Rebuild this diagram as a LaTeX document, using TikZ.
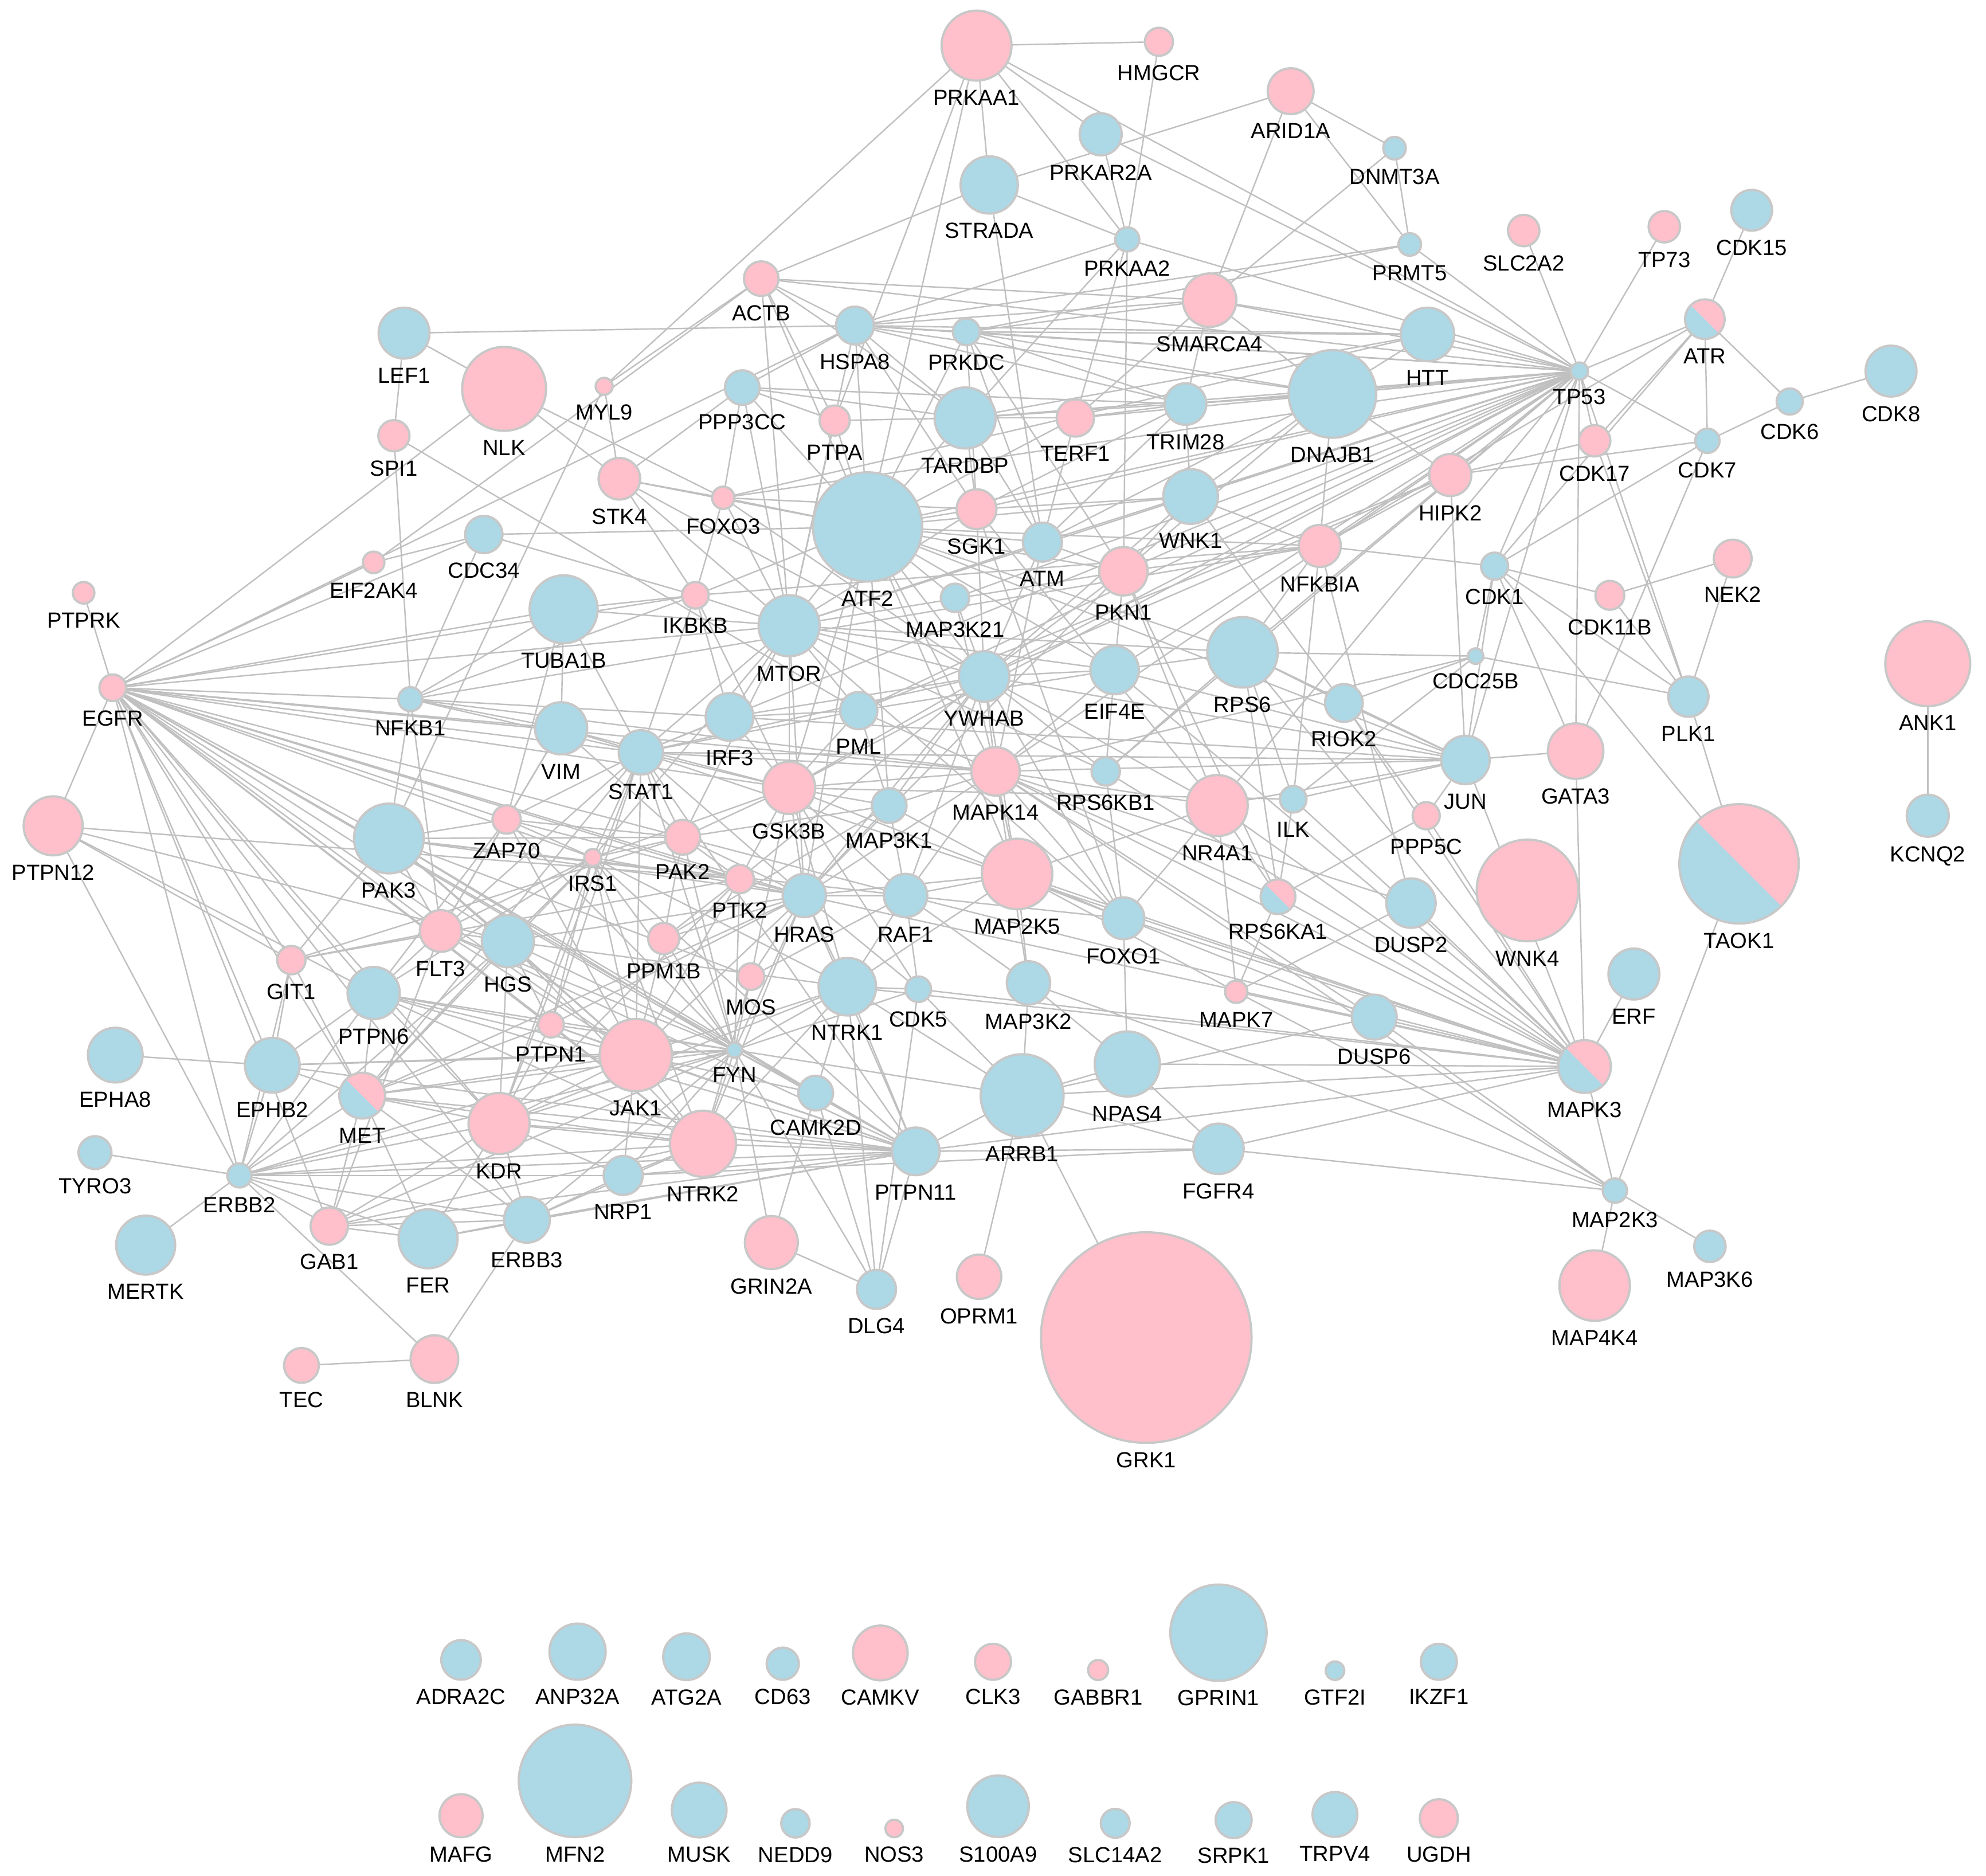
\documentclass[tikz,border=0pt]{standalone}
\usepackage{fontspec}
\setmainfont{Liberation Sans}
\usetikzlibrary{calc}
\pgfdeclarelayer{back}
\pgfdeclarelayer{bg}
\pgfsetlayers{back,bg,main}
\definecolor{pk}{RGB}{255,192,203}
\definecolor{lb}{RGB}{173,216,230}
\definecolor{bd}{RGB}{200,200,200}
\definecolor{ed}{RGB}{192,192,192}
\tikzset{
 nd/.style={circle,draw=bd,line width=1.8pt,inner sep=0pt,outer sep=0pt},
 pkn/.style={nd,fill=pk},
 bln/.style={nd,fill=lb},
 spn/.style={nd,fill=lb,path picture={\fill[pk] ($(path picture bounding box.center)+(-90pt,90pt)$) -- ($(path picture bounding box.center)+(90pt,-90pt)$) -- ($(path picture bounding box.center)+(90pt,90pt)$) -- cycle;}},
 lbl/.style={font=\fontsize{17.3}{20}\selectfont,inner sep=0pt,outer sep=0pt,text=black},
 ge/.style={draw=ed,line width=1.1pt}
}
\newcommand\mknode[5]{\node[#5,minimum size={2*#4-1.8}] (#1) at (#2,#3) {};
 \node[lbl,anchor=north] (#1-l) at ([yshift=-7.5pt]#1.south) {#1};}
\begin{document}
\begin{tikzpicture}[x=1pt,y=-1pt]
\useasboundingbox (0,0) rectangle (1568,1481);
\begin{pgfonlayer}{back}
\fill[white] (0,0) rectangle (1568,1481);
\end{pgfonlayer}
\mknode{PRKAA1}{771}{36}{28.5}{pkn}
\mknode{HMGCR}{915}{33}{12}{pkn}
\mknode{ARID1A}{1019}{72}{19}{pkn}
\mknode{PRKAR2A}{869}{106}{17.5}{bln}
\mknode{DNMT3A}{1101}{117}{9.8}{bln}
\mknode{STRADA}{781}{146}{23.5}{bln}
\mknode{PRKAA2}{890}{189}{10.4}{bln}
\mknode{PRMT5}{1113}{193}{9.8}{bln}
\mknode{SLC2A2}{1203}{182}{13.3}{pkn}
\mknode{TP73}{1314}{179}{13.3}{pkn}
\mknode{CDK15}{1383}{166}{17}{bln}
\mknode{ACTB}{601}{220}{14.5}{pkn}
\mknode{SMARCA4}{955}{237}{22}{pkn}
\mknode{ATR}{1346}{252}{16.5}{spn}
\mknode{HSPA8}{675}{257}{15.8}{bln}
\mknode{PRKDC}{763}{262}{11.5}{bln}
\mknode{LEF1}{319}{263}{21}{bln}
\mknode{HTT}{1127}{264}{22}{bln}
\mknode{TP53}{1247}{293}{7.7}{bln}
\mknode{DNAJB1}{1052}{311}{35.5}{bln}
\mknode{CDK8}{1493}{293}{21}{bln}
\mknode{CDK6}{1413}{317}{11.2}{bln}
\mknode{NLK}{398}{307}{34}{pkn}
\mknode{MYL9}{477}{305}{7.6}{pkn}
\mknode{PPP3CC}{586}{306}{14.5}{bln}
\mknode{PTPA}{659}{332}{12.8}{pkn}
\mknode{TARDBP}{762}{330}{25}{bln}
\mknode{TERF1}{849}{330}{15.6}{pkn}
\mknode{TRIM28}{936}{319}{17.3}{bln}
\mknode{CDK17}{1259}{348}{13.3}{pkn}
\mknode{CDK7}{1348}{348}{10.5}{bln}
\mknode{SPI1}{311}{344}{13.2}{pkn}
\mknode{STK4}{489}{378}{17.3}{pkn}
\mknode{FOXO3}{571}{393}{9.7}{pkn}
\mknode{ATF2}{685}{416}{44}{bln}
\mknode{SGK1}{771}{402}{16.6}{pkn}
\mknode{WNK1}{940}{392}{22.5}{bln}
\mknode{HIPK2}{1145}{375}{17.5}{pkn}
\mknode{NFKBIA}{1042}{431}{17.5}{pkn}
\mknode{ATM}{823}{428}{16.3}{bln}
\mknode{PKN1}{887}{451}{20}{pkn}
\mknode{CDC34}{382}{422}{15.6}{bln}
\mknode{EIF2AK4}{295}{444}{9.4}{pkn}
\mknode{PTPRK}{66}{468}{9.4}{pkn}
\mknode{IKBKB}{549}{470}{11.4}{pkn}
\mknode{MAP3K21}{754}{472}{12.1}{bln}
\mknode{MTOR}{623}{494}{25}{bln}
\mknode{TUBA1B}{445}{481}{27.7}{bln}
\mknode{CDK1}{1180}{447}{11.6}{bln}
\mknode{NEK2}{1368}{441}{15.8}{pkn}
\mknode{CDK11B}{1271}{470}{12.3}{pkn}
\mknode{EGFR}{89}{543}{11.4}{pkn}
\mknode{NFKB1}{324}{552}{10.4}{bln}
\mknode{RPS6}{981}{515}{28.7}{bln}
\mknode{CDC25B}{1165}{518}{7}{bln}
\mknode{ANK1}{1522}{524}{34.4}{pkn}
\mknode{PLK1}{1333}{550}{16.8}{bln}
\mknode{EIF4E}{880}{529}{20}{bln}
\mknode{YWHAB}{777}{534}{20.8}{bln}
\mknode{RIOK2}{1061}{555}{15.8}{bln}
\mknode{VIM}{443}{575}{21.5}{bln}
\mknode{IRF3}{576}{566}{19.7}{bln}
\mknode{PML}{678}{561}{15.6}{bln}
\mknode{STAT1}{506}{594}{18.4}{bln}
\mknode{JUN}{1157}{600}{20}{bln}
\mknode{GATA3}{1244}{593}{22.8}{pkn}
\mknode{GSK3B}{623}{622}{21.5}{pkn}
\mknode{MAPK14}{786}{609}{20}{pkn}
\mknode{RPS6KB1}{873}{609}{12.1}{bln}
\mknode{NR4A1}{961}{636}{25}{pkn}
\mknode{ILK}{1021}{631}{11.4}{bln}
\mknode{PPP5C}{1126}{644}{11.6}{pkn}
\mknode{PTPN12}{42}{652}{24.2}{pkn}
\mknode{PAK3}{307}{662}{28.4}{bln}
\mknode{ZAP70}{400}{647}{12.1}{pkn}
\mknode{IRS1}{468}{677}{7.6}{pkn}
\mknode{PAK2}{539}{661}{14.6}{pkn}
\mknode{MAP3K1}{702}{636}{14.6}{bln}
\mknode{KCNQ2}{1522}{644}{17.5}{bln}
\mknode{TAOK1}{1373}{682}{48}{spn}
\mknode{PTK2}{584}{694}{12.1}{pkn}
\mknode{HRAS}{635}{707}{18}{bln}
\mknode{RAF1}{715}{707}{18}{bln}
\mknode{MAP2K5}{803}{690}{28.7}{pkn}
\mknode{FOXO1}{887}{725}{17.4}{bln}
\mknode{RPS6KA1}{1009}{708}{14.6}{spn}
\mknode{DUSP2}{1114}{713}{20.4}{bln}
\mknode{WNK4}{1206}{703}{41}{pkn}
\mknode{GIT1}{230}{758}{12.1}{pkn}
\mknode{FLT3}{348}{735}{17.4}{pkn}
\mknode{HGS}{401}{743}{21.5}{bln}
\mknode{PPM1B}{524}{741}{13.2}{pkn}
\mknode{MOS}{593}{771}{11.4}{pkn}
\mknode{PTPN6}{295}{784}{21.5}{bln}
\mknode{PTPN1}{435}{809}{11}{pkn}
\mknode{NTRK1}{669}{779}{23.6}{bln}
\mknode{CDK5}{725}{781}{11}{bln}
\mknode{MAP3K2}{812}{776}{18}{bln}
\mknode{MAPK7}{976}{783}{9.7}{pkn}
\mknode{ERF}{1290}{769}{21}{bln}
\mknode{DUSP6}{1085}{803}{18.6}{bln}
\mknode{EPHA8}{91}{833}{22.5}{bln}
\mknode{EPHB2}{215}{841}{22.5}{bln}
\mknode{MET}{286}{865}{19}{spn}
\mknode{JAK1}{502}{833}{29.4}{pkn}
\mknode{FYN}{580}{829}{6.9}{bln}
\mknode{NPAS4}{890}{840}{26.6}{bln}
\mknode{MAPK3}{1251}{842}{21.7}{spn}
\mknode{KDR}{394}{887}{25}{pkn}
\mknode{CAMK2D}{644}{863}{14.6}{bln}
\mknode{ARRB1}{807}{865}{33.6}{bln}
\mknode{TYRO3}{75}{910}{13.9}{bln}
\mknode{ERBB2}{189}{928}{10.4}{bln}
\mknode{NRP1}{492}{928}{16.3}{bln}
\mknode{NTRK2}{555}{903}{27}{pkn}
\mknode{PTPN11}{723}{909}{19.7}{bln}
\mknode{FGFR4}{962}{907}{20.8}{bln}
\mknode{MAP2K3}{1275}{940}{10.5}{bln}
\mknode{GAB1}{260}{968}{15.6}{pkn}
\mknode{FER}{338}{978}{24.2}{bln}
\mknode{ERBB3}{416}{963}{19}{bln}
\mknode{MERTK}{115}{983}{24.2}{bln}
\mknode{GRIN2A}{609}{981}{21.8}{pkn}
\mknode{DLG4}{692}{1018}{16.3}{bln}
\mknode{OPRM1}{773}{1008}{18.4}{pkn}
\mknode{MAP3K6}{1350}{984}{13.3}{bln}
\mknode{MAP4K4}{1259}{1015}{28.7}{pkn}
\mknode{GRK1}{905}{1056}{84}{pkn}
\mknode{TEC}{238}{1078}{14.6}{pkn}
\mknode{BLNK}{343}{1073}{19.7}{pkn}
% isolated nodes
\mknode{ADRA2C}{364}{1310.5}{16.5}{bln}
\mknode{ANP32A}{456}{1304}{23.1}{bln}
\mknode{ATG2A}{542}{1308}{19.3}{bln}
\mknode{CD63}{618}{1313.5}{13.6}{bln}
\mknode{CAMKV}{695}{1305}{22.5}{pkn}
\mknode{CLK3}{784}{1312}{15.1}{pkn}
\mknode{GABBR1}{867}{1318.5}{8.8}{pkn}
\mknode{GPRIN1}{962}{1289}{38.9}{bln}
\mknode{GTF2I}{1054}{1319}{8.2}{bln}
\mknode{IKZF1}{1136}{1312}{15.1}{bln}
\mknode{MAFG}{364}{1433.5}{17.9}{pkn}
\mknode{MFN2}{454}{1406}{45.3}{bln}
\mknode{MUSK}{552}{1429}{22.5}{bln}
\mknode{NEDD9}{628}{1439.5}{12.1}{bln}
\mknode{NOS3}{706}{1443.6}{7.8}{pkn}
\mknode{S100A9}{788}{1426}{25.2}{bln}
\mknode{SLC14A2}{880.5}{1439.5}{12.3}{bln}
\mknode{SRPK1}{974}{1437}{15.1}{bln}
\mknode{TRPV4}{1054}{1432.5}{18.6}{bln}
\mknode{UGDH}{1136}{1435.5}{15.9}{pkn}
\begin{pgfonlayer}{bg}
\foreach \a/\b in {
PRKAA1/HMGCR, PRKAA1/PRKAR2A, PRKAA1/STRADA, PRKAA1/PRKAA2, PRKAA1/TP53, PRKAA1/MYL9, PRKAA1/PTPA, PRKAA1/ATF2,
HMGCR/PRKAA2,
ARID1A/DNMT3A, ARID1A/PRMT5, ARID1A/SMARCA4, ARID1A/STRADA,
DNMT3A/PRMT5, DNMT3A/SMARCA4,
PRKAR2A/PRKAA2, PRKAR2A/TP53,
STRADA/PRKAA2, STRADA/ACTB, STRADA/ATM,
PRKAA2/HSPA8, PRKAA2/TARDBP, PRKAA2/PKN1, PRKAA2/TP53, PRKAA2/TERF1,
PRMT5/TP53, PRMT5/HSPA8, PRMT5/PRKDC,
SLC2A2/TP53, TP73/TP53, CDK15/ATR,
ATR/TP53, ATR/CDK6, ATR/CDK7, ATR/CDK17, ATR/CDK1, ATR/NFKBIA,
CDK6/CDK8, CDK6/CDK7,
HIPK2/CDK7, CDK7/GATA3, CDK7/CDK1, CDK7/TP53,
CDK17/TP53, CDK17/PLK1, CDK17/HIPK2,
TP53/HTT, TP53/DNAJB1, TP53/SMARCA4, TP53/HSPA8, TP53/PRKDC, TP53/TRIM28, TP53/ACTB, TP53/TARDBP, TP53/ATM, TP53/WNK1, TP53/NFKBIA, TP53/HIPK2, TP53/MTOR, TP53/ATF2, TP53/SGK1, TP53/YWHAB, TP53/MAPK14, TP53/EIF4E, TP53/RPS6, TP53/JUN, TP53/CDK1, TP53/PLK1, TP53/GATA3, TP53/PKN1, TP53/STAT1, TP53/GSK3B, TP53/NR4A1, TP53/FOXO3, TP53/TERF1, TP53/PML, TP53/MAP3K21, TP53/RPS6KB1,
HTT/HSPA8, HTT/PRKDC, HTT/DNAJB1, HTT/TARDBP, HTT/SMARCA4, HTT/FOXO3,
DNAJB1/HSPA8, DNAJB1/TRIM28, DNAJB1/WNK1, DNAJB1/ATM, DNAJB1/PKN1, DNAJB1/NFKBIA, DNAJB1/SMARCA4, DNAJB1/TARDBP, DNAJB1/HIPK2, DNAJB1/PRKDC,
SMARCA4/ACTB, SMARCA4/HSPA8, SMARCA4/TRIM28, SMARCA4/TERF1, SMARCA4/PRKDC,
ACTB/HSPA8, ACTB/MTOR, ACTB/TARDBP, ACTB/ATF2, ACTB/EIF2AK4, ACTB/MYL9, ACTB/PTPA,
LEF1/HSPA8, LEF1/NLK, LEF1/SPI1,
SPI1/NFKB1, SPI1/PML,
NLK/STK4, NLK/FOXO3, NLK/EGFR,
MYL9/STK4, MYL9/PAK3,
HSPA8/PRKDC, HSPA8/TRIM28, HSPA8/PPP3CC, HSPA8/ATF2, HSPA8/EGFR, HSPA8/TARDBP, HSPA8/MTOR, HSPA8/SGK1,
PRKDC/ATM, PRKDC/ATF2, PRKDC/TRIM28, PRKDC/SGK1, PRKDC/PKN1,
PPP3CC/TRIM28, PPP3CC/PTPA, PPP3CC/FOXO3, PPP3CC/ATF2, PPP3CC/MTOR, PPP3CC/STK4, PPP3CC/TARDBP,
PTPA/ATF2, PTPA/MTOR, PTPA/TARDBP,
TARDBP/TERF1, TARDBP/SGK1, TARDBP/ATF2, TARDBP/ATM,
TERF1/TRIM28, TERF1/ATM, TERF1/ATF2,
TRIM28/ATM, TRIM28/WNK1, TRIM28/SGK1,
STK4/FOXO3, STK4/MTOR, STK4/IKBKB, STK4/ATF2, STK4/YWHAB,
FOXO3/SGK1, FOXO3/YWHAB, FOXO3/IKBKB, FOXO3/ATF2, FOXO3/MTOR,
ATF2/JUN, ATF2/MAPK14, ATF2/ATM, ATF2/YWHAB, ATF2/MTOR, ATF2/SGK1, ATF2/WNK1, ATF2/NFKBIA, ATF2/PKN1, ATF2/RPS6, ATF2/EIF4E, ATF2/IKBKB, ATF2/CDC34, ATF2/MAP3K1, ATF2/GSK3B, ATF2/HRAS, ATF2/MAP2K5,
SGK1/WNK1, SGK1/YWHAB, SGK1/MTOR, SGK1/FOXO1, SGK1/NR4A1,
WNK1/PKN1, WNK1/PPP5C, WNK1/NFKBIA, WNK1/YWHAB,
HIPK2/NFKBIA, HIPK2/JUN, HIPK2/PML, HIPK2/YWHAB,
NFKBIA/CDK1, NFKBIA/IKBKB, NFKBIA/NFKB1, NFKBIA/PKN1, NFKBIA/ILK, NFKBIA/DUSP2, NFKBIA/RPS6,
ATM/YWHAB, ATM/MTOR, ATM/PKN1, ATM/MAPK14,
PKN1/YWHAB, PKN1/EIF4E, PKN1/NR4A1, PKN1/RPS6KA1, PKN1/HRAS,
CDC34/EIF2AK4, CDC34/NFKB1, CDC34/IKBKB,
PTPRK/EGFR, PTPN12/EGFR,
EGFR/TUBA1B, EGFR/IKBKB, EGFR/MTOR, EGFR/NFKB1, EGFR/VIM, EGFR/STAT1, EGFR/ZAP70, EGFR/PAK3, EGFR/IRS1, EGFR/PAK2, EGFR/PTK2, EGFR/HRAS, EGFR/HGS, EGFR/FLT3, EGFR/PTPN6, EGFR/PTPN1, EGFR/JAK1, EGFR/FYN, EGFR/GIT1, EGFR/EPHB2, EGFR/ERBB2, EGFR/MET, EGFR/KDR, EGFR/PTPN11, EGFR/NTRK2, EGFR/ERBB3, EGFR/GAB1, EGFR/GSK3B, EGFR/MAPK14, EGFR/CDC34, EGFR/EIF2AK4,
IKBKB/MTOR, IKBKB/TUBA1B, IKBKB/NFKB1, IKBKB/STAT1, IKBKB/IRF3, IKBKB/GSK3B,
MAP3K21/YWHAB, MAP3K21/MAPK14, MAP3K21/ATF2,
MTOR/TUBA1B, MTOR/STAT1, MTOR/IRF3, MTOR/PML, MTOR/YWHAB, MTOR/RPS6KB1, MTOR/RPS6, MTOR/EIF4E, MTOR/GSK3B, MTOR/HRAS, MTOR/FOXO1, MTOR/PKN1, MTOR/IRS1, MTOR/PAK2,
TUBA1B/STAT1, TUBA1B/VIM, TUBA1B/ZAP70, TUBA1B/NFKB1,
CDK1/CDK11B, CDK1/PLK1, CDK1/CDC25B, CDK1/JUN, CDK1/TAOK1, CDK1/GATA3,
NEK2/CDK11B, NEK2/PLK1, CDK11B/PLK1,
NFKB1/PAK3, NFKB1/STAT1, NFKB1/VIM, NFKB1/IRF3, NFKB1/MAPK14, NFKB1/FLT3,
RPS6/RPS6KB1, RPS6/RPS6KA1, RPS6/EIF4E, RPS6/RIOK2, RPS6/JUN, RPS6/MAPK3, RPS6/CDC25B, RPS6/ILK,
CDC25B/PLK1, CDC25B/RIOK2, CDC25B/MAPK14, CDC25B/ILK,
ANK1/KCNQ2, PLK1/TAOK1,
EIF4E/RPS6KB1, EIF4E/MAPK14, EIF4E/PML, EIF4E/YWHAB, EIF4E/JUN, EIF4E/MAPK3,
YWHAB/RAF1, YWHAB/FOXO1, YWHAB/MAPK14, YWHAB/MAP2K5, YWHAB/NR4A1, YWHAB/GSK3B, YWHAB/MAP3K1, YWHAB/IRF3, YWHAB/HRAS, YWHAB/RPS6KB1, YWHAB/STAT1, YWHAB/PTK2,
RIOK2/JUN, RIOK2/MAPK3,
VIM/STAT1, VIM/PAK2, VIM/FLT3, VIM/ZAP70, VIM/GSK3B,
IRF3/STAT1, IRF3/PML, IRF3/GSK3B, IRF3/JUN,
PML/STAT1, PML/MAP3K1, PML/MAPK14, PML/GSK3B,
STAT1/JAK1, STAT1/JUN, STAT1/GSK3B, STAT1/PAK2, STAT1/ZAP70, STAT1/HRAS, STAT1/PTPN1, STAT1/PTPN11, STAT1/MAPK3, STAT1/FYN, STAT1/IRS1, STAT1/KDR, STAT1/MAPK14,
JUN/GATA3, JUN/MAPK3, JUN/MAPK14, JUN/NR4A1, JUN/ILK, JUN/YWHAB, JUN/PPP5C,
GATA3/MAPK3,
GSK3B/PTK2, GSK3B/PAK2, GSK3B/HRAS, GSK3B/CDK5, GSK3B/MAP3K1, GSK3B/NTRK1, GSK3B/MOS, GSK3B/FOXO1, GSK3B/MAPK14, GSK3B/RAF1, GSK3B/IRS1,
MAPK14/MAP3K1, MAPK14/MAP2K5, MAPK14/NR4A1, MAPK14/RAF1, MAPK14/HRAS, MAPK14/FOXO1, MAPK14/MAP3K2, MAPK14/MAP2K3, MAPK14/DUSP6, MAPK14/DUSP2, MAPK14/MAPK3, MAPK14/RPS6KA1,
RPS6KB1/FOXO1, RPS6KB1/MAPK3,
NR4A1/MAPK7, NR4A1/RPS6KA1, NR4A1/FOXO1, NR4A1/MAPK3, NR4A1/MAP2K5,
ILK/RPS6KA1, ILK/MAPK3, ILK/GSK3B,
PPP5C/MAPK3, PPP5C/RPS6KA1,
PTPN12/PTK2, PTPN12/ERBB2, PTPN12/PTPN6, PTPN12/GIT1, PTPN12/HGS,
PAK3/PAK2, PAK3/HGS, PAK3/FLT3, PAK3/GIT1, PAK3/HRAS, PAK3/RAF1, PAK3/PTK2, PAK3/ZAP70, PAK3/MOS, PAK3/JAK1, PAK3/FYN, PAK3/CAMK2D,
ZAP70/PAK2, ZAP70/IRS1, ZAP70/FLT3, ZAP70/FYN, ZAP70/PTPN6, ZAP70/HRAS, ZAP70/JAK1,
IRS1/JAK1, IRS1/PTPN11, IRS1/PTPN1, IRS1/FYN, IRS1/HRAS, IRS1/PAK2, IRS1/HGS, IRS1/FLT3, IRS1/PTPN6, IRS1/KDR, IRS1/NTRK2, IRS1/NTRK1, IRS1/MET,
PAK2/HRAS, PAK2/PTK2, PAK2/RAF1, PAK2/MAP3K1, PAK2/GIT1, PAK2/PPM1B, PAK2/FYN,
MAP3K1/HRAS, MAP3K1/RAF1, MAP3K1/MAP2K5, MAP3K1/PPM1B,
PTK2/HRAS, PTK2/FYN, PTK2/PPM1B, PTK2/GIT1, PTK2/JAK1, PTK2/KDR,
HRAS/RAF1, HRAS/NTRK1, HRAS/NTRK2, HRAS/PTPN11, HRAS/MOS, HRAS/FYN, HRAS/JAK1, HRAS/CDK5, HRAS/MAP2K5, HRAS/MAPK3, HRAS/PPM1B, HRAS/PTPN1, HRAS/HGS, HRAS/MET,
RAF1/MAP2K5, RAF1/NTRK1, RAF1/MAPK3, RAF1/FOXO1, RAF1/CDK5, RAF1/MOS, RAF1/MAP3K2,
MAP2K5/MAPK7, MAP2K5/MAP3K2, MAP2K5/FOXO1, MAP2K5/NTRK1, MAP2K5/MAPK3,
FOXO1/MAPK3, FOXO1/NPAS4, FOXO1/DUSP6,
RPS6KA1/MAPK3, RPS6KA1/MAPK7,
DUSP2/MAPK3, DUSP2/MAPK7,
GIT1/EPHB2, GIT1/ERBB2, GIT1/MET, GIT1/FLT3,
FLT3/PTPN6, FLT3/PTPN11, FLT3/FYN, FLT3/HGS, FLT3/GAB1, FLT3/JAK1, FLT3/STAT1,
HGS/MET, HGS/ERBB2, HGS/JAK1, HGS/FYN, HGS/PTPN1, HGS/NTRK1, HGS/NTRK2,
PPM1B/FYN, PPM1B/JAK1,
MOS/FYN, MOS/NTRK2,
PTPN6/MET, PTPN6/JAK1, PTPN6/FYN, PTPN6/KDR, PTPN6/ERBB2, PTPN6/PTPN11, PTPN6/EPHB2, PTPN6/NTRK2, PTPN6/PTPN1,
PTPN1/JAK1, PTPN1/MET, PTPN1/FYN, PTPN1/KDR, PTPN1/NTRK2, PTPN1/PTPN11,
NTRK1/FYN, NTRK1/PTPN11, NTRK1/NTRK2, NTRK1/CAMK2D, NTRK1/DLG4, NTRK1/CDK5, NTRK1/JAK1, NTRK1/KDR, NTRK1/MAPK3, NTRK1/ARRB1,
CDK5/DLG4, CDK5/MAPK3, CDK5/ARRB1,
MAP3K2/ARRB1, MAP3K2/MAP2K3, MAP3K2/NPAS4,
MAPK7/MAP2K3, MAPK7/MAPK3,
ERF/MAPK3,
DUSP6/MAPK3, DUSP6/MAP2K3, DUSP6/ARRB1,
EPHA8/EPHB2,
EPHB2/ERBB2, EPHB2/FYN, EPHB2/JAK1, EPHB2/PTPN11, EPHB2/MET,
MET/ERBB2, MET/GAB1, MET/PTPN11, MET/JAK1, MET/FYN, MET/ERBB3, MET/FER, MET/NTRK2, MET/KDR, MET/STAT1,
JAK1/FYN, JAK1/PTPN11, JAK1/KDR, JAK1/ERBB2, JAK1/NTRK2, JAK1/NRP1, JAK1/CAMK2D,
FYN/KDR, FYN/NTRK2, FYN/PTPN11, FYN/CAMK2D, FYN/DLG4, FYN/GRIN2A, FYN/ERBB2, FYN/ERBB3, FYN/NRP1, FYN/GAB1, FYN/CDK5, FYN/ARRB1,
NPAS4/MAPK3, NPAS4/ARRB1, NPAS4/FGFR4,
MAPK3/ARRB1, MAPK3/FGFR4, MAPK3/PTPN11, MAPK3/MAP2K3,
KDR/ERBB2, KDR/NRP1, KDR/NTRK2, KDR/GAB1, KDR/PTPN11, KDR/ERBB3, KDR/FER, KDR/HGS,
CAMK2D/GRIN2A, CAMK2D/DLG4, CAMK2D/PTPN11,
ARRB1/GRK1, ARRB1/OPRM1, ARRB1/FGFR4, ARRB1/PTPN11,
TYRO3/ERBB2, MERTK/ERBB2,
ERBB2/NRP1, ERBB2/NTRK2, ERBB2/PTPN11, ERBB2/ERBB3, ERBB2/FER, ERBB2/GAB1, ERBB2/BLNK,
NRP1/NTRK2, NRP1/ERBB3, NRP1/PTPN11, NRP1/FGFR4,
NTRK2/PTPN11, NTRK2/ERBB3, NTRK2/GAB1,
PTPN11/FGFR4, PTPN11/GAB1, PTPN11/ERBB3, PTPN11/DLG4, PTPN11/FER,
FGFR4/MAP2K3,
MAP2K3/MAP3K6, MAP2K3/MAP4K4, MAP2K3/TAOK1,
GAB1/ERBB3, GAB1/FER, FER/ERBB3, ERBB3/BLNK,
GRIN2A/DLG4, TEC/BLNK}
{\draw[ge] (\a) -- (\b);}
\end{pgfonlayer}
\end{tikzpicture}
\end{document}
